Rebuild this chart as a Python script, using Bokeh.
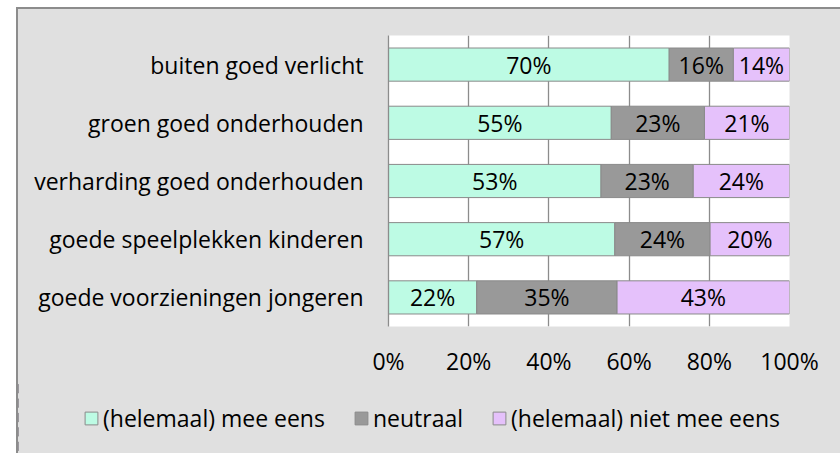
from bokeh.plotting import figure
from bokeh.models import (ColumnDataSource, FactorRange, Range1d, FixedTicker, LabelSet,
                          Legend, LegendItem, InlineStyleSheet)
from bokeh.layouts import column
from bokeh.core.properties import value
from bokeh.embed import file_html
from bokeh.resources import INLINE

categories = ["buiten goed verlicht", "groen goed onderhouden", "verharding goed onderhouden",
              "goede speelplekken kinderen", "goede voorzieningen jongeren"]
mee_eens = [70, 55, 53, 57, 22]
neutraal = [16, 23, 23, 24, 35]
niet_mee_eens = [14, 21, 24, 20, 43]
series_names = ["(helemaal) mee eens", "neutraal", "(helemaal) niet mee eens"]
tick_values = [0, 20, 40, 60, 80, 100]
tick_labels = ["0%", "20%", "40%", "60%", "80%", "100%"]

colors = ["#bdfbe4", "#999999", "#e5c1fb"]
OUTLINE = "#8a8a8a"
BG = "#e0e0e0"
FONT = "Open Sans"
FS = "23px"

series = [mee_eens, neutraal, niet_mee_eens]
totals = [sum(v) for v in zip(*series)]
norm = [[100.0 * v / t for v, t in zip(s, totals)] for s in series]
keys = ["s0", "s1", "s2"]
src = ColumnDataSource(dict(cat=categories, s0=norm[0], s1=norm[1], s2=norm[2]))

lab_x, lab_y, lab_t = [], [], []
for i, cat in enumerate(categories):
    left = 0.0
    for k in range(3):
        w = norm[k][i]
        lab_x.append(left + w / 2)
        lab_y.append(cat)
        lab_t.append(f"{series[k][i]}%")
        left += w
lab_src = ColumnDataSource(dict(x=lab_x, y=lab_y, t=lab_t))

W = 822
p = figure(width=W, height=372, y_range=FactorRange(factors=categories[::-1]),
           x_range=Range1d(0, 100), output_backend="svg", toolbar_location=None, title=None,
           min_border_left=370, min_border_right=51, min_border_top=26, min_border_bottom=55)
p.background_fill_color = "white"
p.border_fill_color = BG
p.outline_line_color = None
p.frame_align = False

rs = p.hbar_stack(keys, y="cat", height=0.57, fill_color=colors, line_color=OUTLINE,
                  line_width=1, source=src)

labels = LabelSet(x="x", y="y", text="t", source=lab_src, text_align="center",
                  text_baseline="middle", text_font=value(FONT), text_font_size=FS,
                  text_color="black")
p.add_layout(labels)

p.xgrid.ticker = FixedTicker(ticks=tick_values)
p.xgrid.grid_line_color = "#8c8c8c"
p.xgrid.grid_line_width = 1.3
p.xgrid.level = "underlay"
p.ygrid.grid_line_color = None

xa = p.xaxis[0]
xa.ticker = FixedTicker(ticks=tick_values)
xa.major_label_overrides = {v: l for v, l in zip(tick_values, tick_labels)}
xa.axis_line_color = None
xa.major_tick_line_color = None
xa.minor_tick_line_color = None
xa.major_label_standoff = 12
xa.major_label_text_font = FONT
xa.major_label_text_font_size = FS
xa.major_label_text_color = "black"

ya = p.yaxis[0]
ya.axis_line_color = "#8c8c8c"
ya.axis_line_width = 1.3
ya.major_tick_line_color = None
ya.minor_tick_line_color = None
ya.major_label_standoff = 19
ya.major_label_text_font = FONT
ya.major_label_text_font_size = FS
ya.major_label_text_color = "black"

# legend strip below the chart: same series drawn outside its visible range,
# so only the legend shows
LH = 72
q = figure(width=W, height=LH, x_range=Range1d(1000, 2000),
           y_range=FactorRange(factors=categories[::-1]),
           output_backend="svg", toolbar_location=None, title=None,
           min_border=0, x_axis_type=None, y_axis_type=None)
q.background_fill_color = BG
q.border_fill_color = BG
q.outline_line_color = None
q.grid.grid_line_color = None
q.frame_align = False
proxies = q.hbar_stack(keys, y="cat", height=0.57, fill_color=colors, line_color=OUTLINE,
                       line_width=1, source=src)
legend = Legend(items=[LegendItem(label=n, renderers=[r]) for n, r in zip(series_names, proxies)],
                orientation="horizontal", location=(65, 19), padding=0, margin=0,
                spacing=28, label_standoff=4, glyph_width=16, glyph_height=16,
                border_line_color=None, background_fill_alpha=0,
                label_text_font=FONT, label_text_font_size=FS, label_text_color="black")
q.add_layout(legend, "center")

layout = column(p, q, spacing=0)
layout.stylesheets = [InlineStyleSheet(css=":host { margin-left: 16px; margin-top: 7px; border-left: 2px solid #8c8c8c; border-top: 2px solid #8c8c8c; background-color: #e0e0e0; }")]

open("out.html", "w").write(file_html(layout, INLINE))
